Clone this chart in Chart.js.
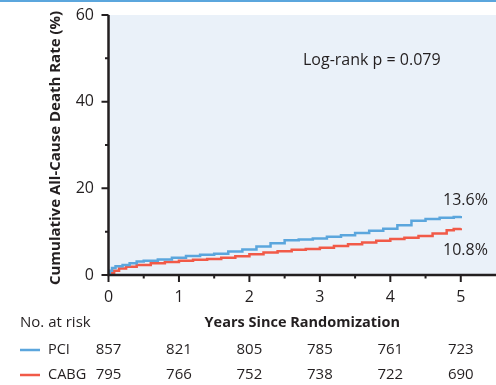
<!DOCTYPE html>
<html>
<head>
<meta charset="utf-8">
<script src="https://cdn.jsdelivr.net/npm/chart.js@4.4.0/dist/chart.umd.min.js"></script>
<style>
  html, body { margin: 0; padding: 0; background: #fff; }
  #wrap { width: 496px; height: 385px; position: relative; }
</style>
</head>
<body>
<div id="wrap"><canvas id="kmChart"></canvas></div>
<script>
// Kaplan-Meier steps: [years, cumulative death %]
const pciTimes = [0, 0.02, 0.05, 0.1, 0.2, 0.3, 0.4, 0.5, 0.7, 0.9, 1.1, 1.3, 1.5, 1.7, 1.9, 2.1, 2.3, 2.5, 2.7, 2.9, 3.1, 3.3, 3.5, 3.7, 3.9, 4.1, 4.3, 4.5, 4.7, 4.9, 5.0];
const pciRates = [0, 1.0, 1.6, 2.0, 2.3, 2.7, 3.1, 3.3, 3.6, 4.0, 4.4, 4.7, 4.9, 5.4, 5.9, 6.6, 7.3, 8.0, 8.2, 8.4, 8.8, 9.2, 9.7, 10.2, 10.7, 11.5, 12.5, 12.9, 13.2, 13.4, 13.6];

const cabgTimes = [0, 0.03, 0.08, 0.15, 0.25, 0.4, 0.6, 0.8, 1.0, 1.2, 1.4, 1.6, 1.8, 2.0, 2.2, 2.4, 2.6, 2.8, 3.0, 3.2, 3.4, 3.6, 3.8, 4.0, 4.2, 4.4, 4.6, 4.8, 4.9, 5.0];
const cabgRates = [0, 0.5, 1.0, 1.5, 1.9, 2.3, 2.7, 3.0, 3.3, 3.5, 3.7, 4.0, 4.3, 4.8, 5.2, 5.5, 5.8, 6.0, 6.3, 6.7, 7.1, 7.5, 7.9, 8.3, 8.6, 9.0, 9.6, 10.3, 10.6, 10.8];

const xTicks = [0, 1, 2, 3, 4, 5];
const yTicks = [0, 20, 40, 60];
const yMinorTicks = [10, 30, 50];
const xMinorTicks = [0.5, 1.5, 2.5, 3.5, 4.5];

const pciAtRisk = [857, 821, 805, 785, 761, 723];
const cabgAtRisk = [795, 766, 752, 738, 722, 690];

const BLUE = "#5ba6dd";
const RED = "#f15a48";
const INK = "#231f20";
const FONT = "'Open Sans', 'Noto Sans', sans-serif";

const toPoints = (xs, ys) => xs.map((x, i) => ({ x, y: ys[i] }));

const kmPlugin = {
  id: "kmDecor",
  beforeDatasetsDraw(chart) {
    const { ctx, chartArea: a } = chart;
    ctx.save();
    ctx.fillStyle = "#eaf1f9";
    ctx.fillRect(a.left, a.top, a.right - a.left, a.bottom - a.top);
    ctx.restore();
  },
  afterDatasetsDraw(chart) {
    const { ctx, chartArea: a } = chart;
    const xs = chart.scales.x;
    const ys = chart.scales.y;
    const x0 = xs.getPixelForValue(0);
    const y0 = ys.getPixelForValue(0);
    ctx.save();

    // top rule
    ctx.fillStyle = BLUE;
    ctx.fillRect(0, 0, chart.width, 2);

    // axes
    ctx.strokeStyle = INK;
    ctx.lineWidth = 2.5;
    ctx.beginPath();
    ctx.moveTo(x0, ys.getPixelForValue(60));
    ctx.lineTo(x0, y0);
    ctx.lineTo(a.right, y0);
    ctx.stroke();

    ctx.lineWidth = 2;
    ctx.beginPath();
    yTicks.forEach((v) => {
      const p = ys.getPixelForValue(v);
      ctx.moveTo(x0 - 7, p);
      ctx.lineTo(x0, p);
    });
    yMinorTicks.forEach((v) => {
      const p = ys.getPixelForValue(v);
      ctx.moveTo(x0 - 3.5, p);
      ctx.lineTo(x0, p);
    });
    xTicks.forEach((v) => {
      const p = xs.getPixelForValue(v);
      ctx.moveTo(p, y0);
      ctx.lineTo(p, y0 + 7);
    });
    xMinorTicks.forEach((v) => {
      const p = xs.getPixelForValue(v);
      ctx.moveTo(p, y0);
      ctx.lineTo(p, y0 + 3.5);
    });
    ctx.stroke();

    // tick labels
    ctx.fillStyle = INK;
    ctx.font = `16px ${FONT}`;
    ctx.textBaseline = "middle";
    ctx.textAlign = "right";
    yTicks.forEach((v) => ctx.fillText(String(v), 94, ys.getPixelForValue(v)));
    ctx.textAlign = "center";
    xTicks.forEach((v) => ctx.fillText(String(v), xs.getPixelForValue(v), 297));

    // y title
    ctx.save();
    ctx.translate(56, 148);
    ctx.rotate(-Math.PI / 2);
    ctx.font = `bold 15px ${FONT}`;
    ctx.fillText("Cumulative All-Cause Death Rate (%)", 0, 0);
    ctx.restore();

    // x title and risk table
    ctx.font = `bold 14.5px ${FONT}`;
    ctx.fillText("Years Since Randomization", xs.getPixelForValue(2.75), 323);
    ctx.font = `15px ${FONT}`;
    ctx.textAlign = "left";
    ctx.fillText("No. at risk", 20, 323);
    ctx.font = `14.5px ${FONT}`;
    ctx.fillText("PCI", 48, 350);
    ctx.fillText("CABG", 48, 375);
    ctx.textAlign = "center";
    ctx.font = `15px ${FONT}`;
    xTicks.forEach((v, i) => {
      const p = xs.getPixelForValue(v);
      ctx.fillText(String(pciAtRisk[i]), p, 350);
      ctx.fillText(String(cabgAtRisk[i]), p, 375);
    });

    ctx.lineWidth = 2.5;
    ctx.strokeStyle = BLUE;
    ctx.beginPath();
    ctx.moveTo(20, 350);
    ctx.lineTo(40, 350);
    ctx.stroke();
    ctx.strokeStyle = RED;
    ctx.beginPath();
    ctx.moveTo(20, 375);
    ctx.lineTo(40, 375);
    ctx.stroke();

    // annotations
    ctx.textAlign = "left";
    ctx.font = `16px ${FONT}`;
    ctx.fillText("Log-rank p = 0.079", 303, 60);
    ctx.fillText("13.6%", 443, 200);
    ctx.fillText("10.8%", 443, 250);

    ctx.restore();
  }
};

new Chart(document.getElementById("kmChart"), {
  type: "line",
  data: {
    datasets: [
      {
        label: "PCI",
        data: toPoints(pciTimes, pciRates),
        borderColor: BLUE,
        borderWidth: 2.5,
        stepped: true,
        pointRadius: 0,
        fill: false
      },
      {
        label: "CABG",
        data: toPoints(cabgTimes, cabgRates),
        borderColor: RED,
        borderWidth: 2.5,
        stepped: true,
        pointRadius: 0,
        fill: false
      }
    ]
  },
  options: {
    responsive: true,
    maintainAspectRatio: false,
    animation: false,
    layout: { padding: { left: 108.5, top: 15, right: 0, bottom: 110 } },
    scales: {
      x: { type: "linear", min: 0, max: 5.5, display: false },
      y: { type: "linear", min: 0, max: 60, display: false }
    },
    plugins: {
      legend: { display: false },
      tooltip: { enabled: false }
    }
  },
  plugins: [kmPlugin]
});
</script>
</body>
</html>
